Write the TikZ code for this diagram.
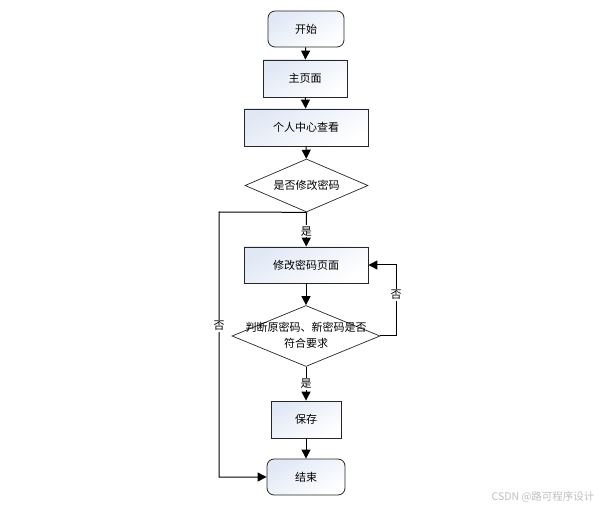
\documentclass[tikz,border=0pt]{standalone}
\usepackage{fontspec}
\setmainfont{Noto Sans CJK SC}
\usetikzlibrary{shapes.geometric,arrows.meta}
\definecolor{boxtop}{RGB}{225,232,245}
\begin{document}
\begin{tikzpicture}[x=1pt,y=-1pt,
  every node/.style={font=\fontsize{11}{13}\selectfont},
  procbox/.style={draw=black!85, line width=0.8pt, top color=boxtop, bottom color=white, shading angle=30, inner sep=0pt, anchor=center},
  termbox/.style={procbox, rounded corners=7pt},
  decide/.style={diamond, draw=black!85, line width=0.7pt, fill=white, inner sep=0pt, anchor=center},
  flow/.style={line width=1pt, -{Triangle[width=9pt,length=9pt]}},
  lab/.style={fill=white, inner sep=1pt}]
\useasboundingbox (0,0) rectangle (602,510);
\node[termbox, minimum width=76pt, minimum height=36pt] (start) at (306,29) {开始};
\node[procbox, minimum width=84pt, minimum height=37pt] (main) at (305,78.5) {主页面};
\node[procbox, minimum width=124pt, minimum height=37pt] (center) at (306,127.5) {个人中心查看};
\node[decide, minimum width=123pt, minimum height=53pt] (d1) at (306.5,185.5) {};
\node (d1t) at (306.5,185.5) {是否修改密码};
\node[procbox, minimum width=124pt, minimum height=36pt] (page) at (306,265) {修改密码页面};
\node[decide, minimum width=148pt, minimum height=61pt] (d2) at (306,336) {};
\node[align=center, font=\fontsize{11}{16}\selectfont] (d2t) at (306,335) {判断原密码、新密码是否\\符合要求};
\node[procbox, minimum width=70pt, minimum height=37pt] (save) at (306,419.5) {保存};
\node[termbox, minimum width=78pt, minimum height=36pt] (end) at (306,477) {结束};
\coordinate (cl1) at (219,212);
\coordinate (cl2) at (219,477);
\coordinate (cr1) at (396,336);
\coordinate (cr2) at (396,265);
\draw[flow] (start) -- (main);
\draw[flow] (main) -- (center);
\draw[flow] (center) -- (d1);
\draw[flow] (d1.south) -- node[lab, pos=0.55] (yes1) {是} (page);
\draw[flow] (page) -- (d2.north);
\draw[flow] (d2.south) -- node[lab, pos=0.5] (yes2) {是} (save);
\draw[flow] (save) -- (end);
\draw[flow] (d1.south) -- (cl1) -- node[lab, pos=0.43] (no1) {否} (cl2) -- (end.west);
\draw[flow] (d2.east) -- (cr1) -- node[lab, pos=0.58] (no2) {否} (cr2) -- (page.east);
\node[text=black!25, font=\fontsize{10.5}{12}\selectfont, anchor=east] (wm) at (598,497) {CSDN @路可程序设计};
\end{tikzpicture}
\end{document}
